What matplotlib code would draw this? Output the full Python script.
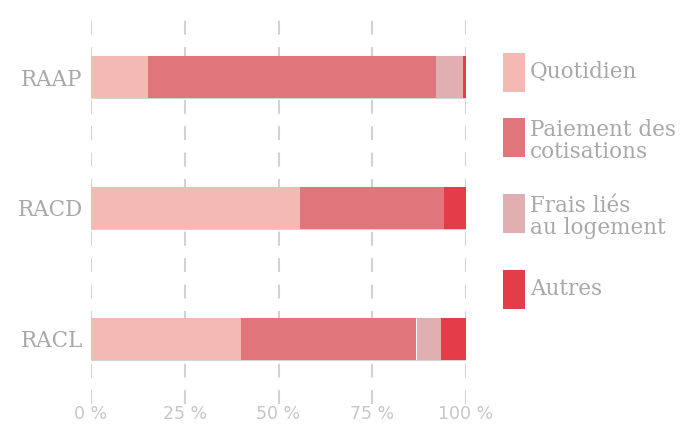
import matplotlib
matplotlib.use("Agg")
import matplotlib.pyplot as plt
from matplotlib.patches import Rectangle

plt.rcParams['lines.scale_dashes'] = False

regimes = ['RAAP', 'RACD', 'RACL']
quotidien = [15.2, 55.7, 39.9]
paiement = [76.8, 38.4, 46.9]
frais = [7.2, 0.0, 6.5]
autres = [0.8, 5.9, 6.7]

series = [quotidien, paiement, frais, autres]
labels = ['Quotidien', 'Paiement des\ncotisations', 'Frais liés\nau logement', 'Autres']
colors = ['#f5b9b3', '#e0767c', '#e1aeb2', '#e23d49']

xticks = [0, 25, 50, 75, 100]
xticklabels = ['0 %', '25 %', '50 %', '75 %', '100 %']

W, H = 696, 430
fig = plt.figure(figsize=(W / 100, H / 100), dpi=100)
ax = fig.add_axes([91 / W, (H - 404) / H, 375 / W, 392 / H])

# rows from top to bottom
ypos = [2, 1, 0]

# thin outline behind each stacked bar
ax.barh(ypos, [100] * 3, height=0.32, color='none', edgecolor='#d4d4d4',
        linewidth=0.8, zorder=2)

left = [0.0, 0.0, 0.0]
for vals, col in zip(series, colors):
    ax.barh(ypos, vals, left=left, height=0.32, color=col, edgecolor='none', zorder=3)
    left = [l + v for l, v in zip(left, vals)]

for x in xticks:
    ax.axvline(x, color='#d2d2d2', linewidth=1.5, linestyle=(0, (10, 9)), zorder=1)

ax.set_xlim(0, 100)
ax.set_ylim(-0.5, 2.5)
ax.set_xticks(xticks)
ax.set_xticklabels(xticklabels, fontsize=12.5, color='#c6c6c6', family='DejaVu Sans')
ax.set_yticks(ypos)
ax.set_yticklabels(regimes, fontsize=15.5, color='#a8a8a8', family='DejaVu Serif')
ax.tick_params(axis='x', length=0, pad=1)
ax.tick_params(axis='y', length=0, pad=6)
for s in ax.spines.values():
    s.set_visible(False)

# legend boxes and labels, placed in pixel positions of the figure
box_tops = [53, 118, 194, 270]
for top, lab, col in zip(box_tops, labels, colors):
    fig.add_artist(Rectangle((503 / W, (H - top - 39) / H), 22 / W, 39 / H,
                             transform=fig.transFigure, facecolor=col,
                             edgecolor='none'))
    nlines = lab.count('\n') + 1
    cy = top + (19 if nlines == 1 else 23)
    fig.text(530 / W, (H - cy) / H, lab, fontsize=15.5, color='#a8a8a8',
             family='DejaVu Serif', va='center', ha='left', linespacing=0.95)

fig.savefig('out.png', dpi=100)
